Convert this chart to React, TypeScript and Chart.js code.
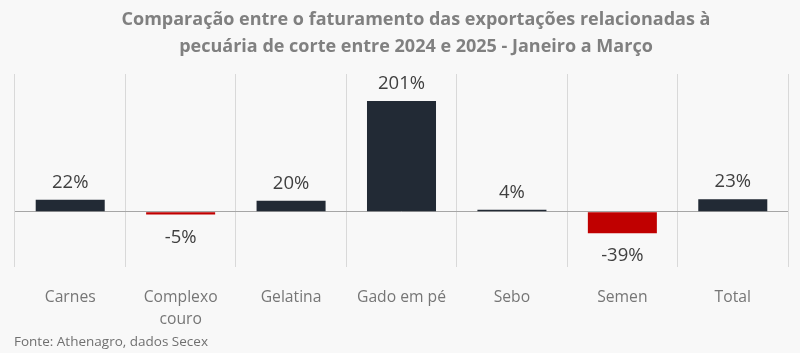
import React, { useEffect, useRef } from "react";
import { Chart, registerables } from "chart.js";

Chart.register(...registerables);

const categories: (string | string[])[] = [
  "Carnes",
  ["Complexo", "couro"],
  "Gelatina",
  "Gado em pé",
  "Sebo",
  "Semen",
  "Total",
];
const values = [22, -5, 20, 201, 4, -39, 23];
const valueLabels = ["22%", "-5%", "20%", "201%", "4%", "-39%", "23%"];
const titleLines = [
  "Comparação entre o faturamento das exportações relacionadas à",
  "pecuária de corte entre 2024 e 2025 - Janeiro a Março",
];
const footerText = "Fonte: Athenagro, dados Secex";

const DARK = "#222a35";
const RED = "#c00000";
const BG = "#f8f8f8";
const FONT = "'Open Sans', 'DejaVu Sans', sans-serif";

const textPlugin = {
  id: "texts",
  beforeDraw(chart: any) {
    const { ctx, width, height } = chart;
    ctx.save();
    ctx.fillStyle = BG;
    ctx.fillRect(0, 0, width, height);
    ctx.restore();
  },
  afterDraw(chart: any) {
    const { ctx } = chart;
    ctx.save();
    ctx.fillStyle = "#808080";
    ctx.font = `bold 18px ${FONT}`;
    ctx.textAlign = "center";
    ctx.textBaseline = "alphabetic";
    ctx.fillText(titleLines[0], 416, 25);
    ctx.fillText(titleLines[1], 416, 52);
    ctx.fillStyle = "#707070";
    ctx.font = `13.5px ${FONT}`;
    ctx.textAlign = "left";
    ctx.fillText(footerText, 14, 346);
    ctx.restore();
  },
  afterDatasetsDraw(chart: any) {
    const { ctx } = chart;
    const meta = chart.getDatasetMeta(0);
    ctx.save();
    ctx.fillStyle = "#404040";
    ctx.font = `18.5px ${FONT}`;
    ctx.textAlign = "center";
    ctx.textBaseline = "alphabetic";
    meta.data.forEach((bar: any, i: number) => {
      const v = values[i];
      const y = v >= 0 ? bar.y - 12 : bar.y + 28;
      ctx.fillText(valueLabels[i], bar.x, y);
    });
    ctx.restore();
  },
};

export default function App() {
  const ref = useRef<HTMLCanvasElement>(null);
  useEffect(() => {
    if (!ref.current) return;
    const chart = new Chart(ref.current, {
      type: "bar",
      data: {
        labels: categories,
        datasets: [
          {
            data: values,
            backgroundColor: values.map((v) => (v < 0 ? RED : DARK)),
            borderWidth: 0,
            categoryPercentage: 1,
            barPercentage: 0.625,
          },
        ],
      },
      options: {
        responsive: false,
        animation: false,
        layout: { padding: { left: 15, right: 12, top: 74, bottom: 0 } },
        plugins: {
          legend: { display: false },
          title: { display: false },
          tooltip: { enabled: false },
        },
        scales: {
          x: {
            grid: {
              offset: true,
              color: "#d9d9d9",
              lineWidth: 1,
              drawTicks: false,
            },
            border: { display: false },
            ticks: {
              color: "#767676",
              font: { family: FONT, size: 15.7, lineHeight: 1.4 },
              padding: 20,
              maxRotation: 0,
              autoSkip: false,
            },
            afterFit(scale: any) {
              scale.height = 86;
            },
          },
          y: {
            min: -100,
            max: 250,
            ticks: { display: false, stepSize: 50 },
            grid: {
              drawTicks: false,
              color: (c: any) => (c.tick && c.tick.value === 0 ? "#a6a6a6" : "rgba(0,0,0,0)"),
              lineWidth: 1,
            },
            border: { display: false },
          },
        },
      },
      plugins: [textPlugin],
    });
    return () => chart.destroy();
  }, []);
  return (
    <div style={{ position: "absolute", left: 0, top: 0, width: 800, height: 353, background: BG }}>
      <canvas ref={ref} width={800} height={353} style={{ display: "block" }} />
    </div>
  );
}
